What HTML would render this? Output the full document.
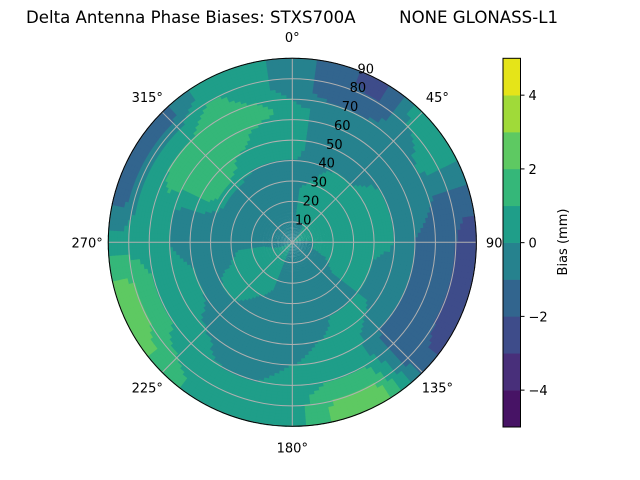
<!DOCTYPE html>
<html><head><meta charset="utf-8"><style>
body{margin:0;background:#fff;}
svg{display:block;font-family:"DejaVu Sans","Liberation Sans",sans-serif;}
</style></head><body>
<svg id="chart" width="640" height="480" viewBox="0 0 640 480">
<text x="26" y="23" font-size="16.6" fill="#000">Delta Antenna Phase Biases: STXS700A</text>
<text x="558" y="23" font-size="16.6" text-anchor="end" fill="#000">NONE GLONASS-L1</text>
<g id="cells"></g>
<g id="grid"></g>
<circle cx="292.3" cy="242.3" r="184" fill="none" stroke="#000" stroke-width="1"/>
<g id="labels" font-size="13" fill="#000"></g>
<g id="cbar"></g>
<text x="0" y="0" font-size="13" text-anchor="middle" transform="translate(567,242) rotate(-90)">Bias (mm)</text>
</svg>
<script>
// azimuth bins (deg) and radial bins (zenith-ring centers)
const azimuths = [0,15,30,45,60,75,90,105,120,135,150,165,180,195,210,225,240,255,270,285,300,315,330,345];
const radii = [5,15,25,35,45,55,65,75,85];
// bias values (mm) per azimuth row, radial columns
const biasRows = [
"T T T T G G G T T","T G G T T T T B B","T G G G T T T B D","G G G G T T T T G",
"G G G G G T T G G","G G G G G T T B B","T G G G G T B B D","T G G G T T B B D",
"T T G G T T B B D","T T T T G T B B B","T T T T G G G L Y","T T T T T G G L Y",
"T T T T T T G G G","T T T T T T T G G","G G G T T T T G G","G G G G T T G G L",
"G G G G T G G L Y","T G G T T G G L Y","T T T T T T G G G","T T T T T T G G B",
"T T T T L L L G B","T T T T L L L G B","T T T T G L L L G","T T T T G G L G G"];
const codeVal = {D:-2.5,B:-1.5,T:-0.5,G:0.5,L:1.5,Y:2.5};
const levels = [-5,-4,-3,-2,-1,0,1,2,3,4,5];
const bandColors = ["#471365","#482f7a","#3e4c8a","#32658e","#26828e","#1f9e89","#35b779","#5ec962","#a0da39","#e5e419"];
const tickValues = [-4,-2,0,2,4];
const ringLabels = [10,20,30,40,50,60,70,80,90];
const angleLabels = [0,45,90,135,180,225,270,315];

const NS="http://www.w3.org/2000/svg";
const cx=292.3, cy=242.3, R=184, rMax=90;
const grid = biasRows.map(r=>r.split(" ").map(c=>codeVal[c]));
function rs(r){return r/rMax*R;}
function pt(az,r){const a=az*Math.PI/180;return [cx+rs(r)*Math.sin(a), cy-rs(r)*Math.cos(a)];}
function val(az,r){
  const na=azimuths.length, step=360/na;
  let fa=((az%360)+360)%360/step; let i0=Math.floor(fa), t=fa-i0; let i1=(i0+1)%na; i0%=na;
  let fr=(r-radii[0])/10; fr=Math.max(0,Math.min(radii.length-1,fr)); let j0=Math.floor(fr), u=fr-j0; let j1=Math.min(j0+1,radii.length-1);
  const a=grid[i0][j0]*(1-u)+grid[i0][j1]*u, b=grid[i1][j0]*(1-u)+grid[i1][j1]*u;
  return a*(1-t)+b*t;
}
function color(v){for(let k=0;k<levels.length-1;k++){if(v<levels[k+1])return bandColors[k];}return bandColors[bandColors.length-1];}
const cells=document.getElementById('cells');
const dA=2, dR=1.5;
for(let az=0;az<360;az+=dA){
  for(let r=0;r<rMax;r+=dR){
    const v=val(az+dA/2,r+dR/2);
    const p1=pt(az-0.3,r),p2=pt(az+dA+0.3,r),p3=pt(az+dA+0.3,r+dR+0.3),p4=pt(az-0.3,r+dR+0.3);
    const p=document.createElementNS(NS,'path');
    p.setAttribute('d',`M${p1}L${p2}L${p3}L${p4}Z`);
    p.setAttribute('fill',color(v));
    
    
    cells.appendChild(p);
  }
}
const g=document.getElementById('grid');
ringLabels.forEach(rl=>{
  const c=document.createElementNS(NS,'circle');
  c.setAttribute('cx',cx);c.setAttribute('cy',cy);c.setAttribute('r',rs(rl));
  c.setAttribute('fill','none');c.setAttribute('stroke','#b0b0b0');c.setAttribute('stroke-width','1');
  
  
  g.appendChild(c);
});
angleLabels.forEach(a=>{
  const e=pt(a,rMax);const l=document.createElementNS(NS,'line');
  l.setAttribute('x1',cx);l.setAttribute('y1',cy);l.setAttribute('x2',e[0]);l.setAttribute('y2',e[1]);
  l.setAttribute('stroke','#b0b0b0');l.setAttribute('stroke-width','1');
  
  
  g.appendChild(l);
});
const lab=document.getElementById('labels');
angleLabels.forEach(a=>{
  const p=pt(a,rMax*1.115);const t=document.createElementNS(NS,'text');
  t.setAttribute('x',p[0]);t.setAttribute('y',p[1]+5);t.setAttribute('text-anchor','middle');
  t.textContent=a+'°';
  
  
  lab.appendChild(t);
});
ringLabels.forEach(rl=>{
  const p=pt(22.5,rl);const t=document.createElementNS(NS,'text');
  t.setAttribute('x',p[0]+3);t.setAttribute('y',p[1]+1);t.setAttribute('text-anchor','middle');
  t.textContent=rl;
  
  
  lab.appendChild(t);
});
const cb=document.getElementById('cbar');
const cbX=503, cbW=17.5, cbTop=58.3, cbBot=427;
function cy2(v){return cbBot-(v-levels[0])/(levels[levels.length-1]-levels[0])*(cbBot-cbTop);}
for(let k=0;k<bandColors.length;k++){
  const r=document.createElementNS(NS,'rect');
  const y1=cy2(levels[k+1]),y2=cy2(levels[k]);
  r.setAttribute('x',cbX);r.setAttribute('y',y1);r.setAttribute('width',cbW);r.setAttribute('height',y2-y1+0.3);
  r.setAttribute('fill',bandColors[k]);
  
  
  cb.appendChild(r);
}
const fr=document.createElementNS(NS,'rect');
fr.setAttribute('x',cbX);fr.setAttribute('y',cbTop);fr.setAttribute('width',cbW);fr.setAttribute('height',cbBot-cbTop);
fr.setAttribute('fill','none');fr.setAttribute('stroke','#000');


cb.appendChild(fr);
tickValues.forEach(v=>{
  const y=cy2(v);
  const l=document.createElementNS(NS,'line');
  l.setAttribute('x1',cbX+cbW);l.setAttribute('x2',cbX+cbW+4);l.setAttribute('y1',y);l.setAttribute('y2',y);l.setAttribute('stroke','#000');
  
  
  cb.appendChild(l);
  const t=document.createElementNS(NS,'text');
  t.setAttribute('x',cbX+cbW+8);t.setAttribute('y',y+5);t.setAttribute('font-size','13');
  t.textContent=v<0?'\u2212'+Math.abs(v):String(v);
  
  
  cb.appendChild(t);
});
</script>
</body></html>
